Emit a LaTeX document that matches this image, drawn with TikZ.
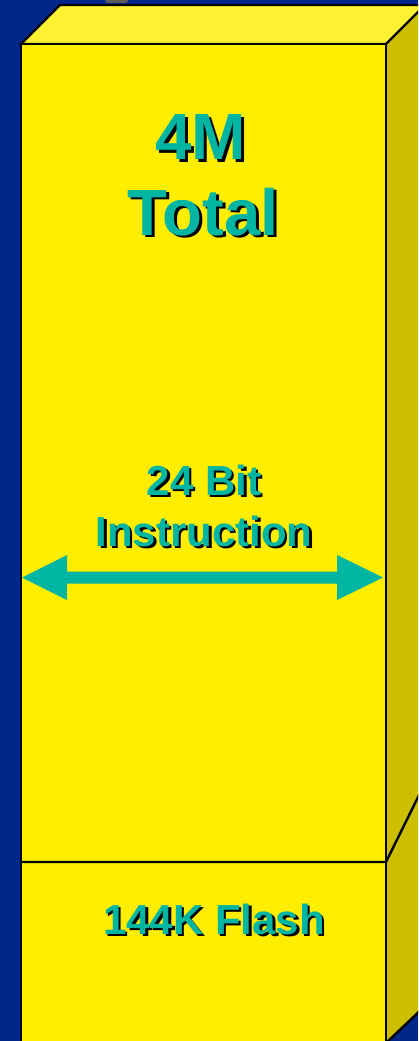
\documentclass[tikz,border=0pt]{standalone}
\usepackage{fontspec}
\setmainfont{Liberation Sans}
\definecolor{bgblue}{HTML}{00288A}
\definecolor{frontyel}{HTML}{FFEE00}
\definecolor{topyel}{HTML}{FFF233}
\definecolor{sideyel}{HTML}{CCBE00}
\definecolor{tealtxt}{HTML}{00B5A2}
\definecolor{greybit}{HTML}{5A5A5A}
% text with a black drop shadow, set as one text
\newcommand\dropshadowtext[2]{%
  \makebox[0pt][l]{\hspace*{#1}\raisebox{-#1}{\color{black}#2}}{\color{tealtxt}#2}}
\begin{document}
\begin{tikzpicture}[x=0.75pt,y=-0.75pt,
  edge/.style={draw=black,line width=1.8pt,line join=miter},
  bigtxt/.style={font=\bfseries\fontsize{49}{58}\selectfont,anchor=base,inner sep=0pt},
  midtxt/.style={font=\bfseries\fontsize{31.5}{38}\selectfont,anchor=base,inner sep=0pt}]
\useasboundingbox (0,0) rectangle (418,1041);
\clip (0,0) rectangle (418,1041);
\fill[bgblue] (0,0) rectangle (418,1041);
\fill[greybit,rounded corners=2pt] (105,-8) rectangle (128,3);
% right side face
\fill[sideyel] (386,44) -- (425,5) -- (425,1006) -- (386,1043) -- cycle;
\draw[edge] (386,1043) -- (425,1006);
% top face
\filldraw[fill=topyel,edge] (21,44) -- (60,5) -- (425,5) -- (386,44) -- cycle;
% front face
\filldraw[fill=frontyel,edge] (21,44) rectangle (386,1060);
% divider
\draw[edge] (21,862) -- (386,862) -- (425,783);
% texts
\node[bigtxt] (t1) at (201,160) {\dropshadowtext{2.2pt}{4M}};
\node[bigtxt] (t2) at (203,235) {\dropshadowtext{2.2pt}{Total}};
\node[midtxt] (t3) at (204,495) {\dropshadowtext{1.9pt}{24 Bit}};
\node[midtxt] (t4) at (204,546) {\dropshadowtext{1.9pt}{Instruction}};
\node[midtxt] (t5) at (214,934) {\dropshadowtext{1.9pt}{144K Flash}};
% double arrow
\fill[tealtxt] (22,577.5) -- (67,555) -- (67,571.5) -- (337,571.5) -- (337,555) -- (383,577.5)
  -- (337,600) -- (337,583.5) -- (67,583.5) -- (67,600) -- cycle;
\end{tikzpicture}
\end{document}
